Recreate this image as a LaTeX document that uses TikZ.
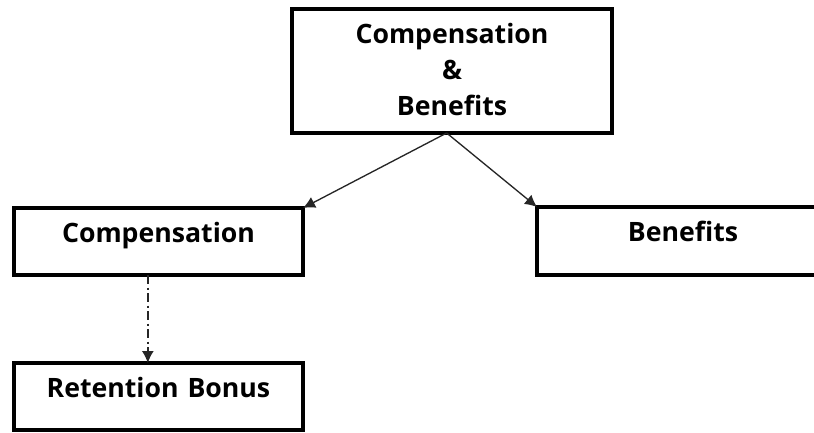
\documentclass[tikz,border=0pt]{standalone}
\usepackage{fontspec}
\setmainfont{Open Sans}
\usetikzlibrary{arrows.meta}

\tikzset{
  box/.style={draw, line width=2.4pt, inner xsep=0pt, inner ysep=0pt, outer sep=0pt,
    anchor=north west, align=center, font=\bfseries\fontsize{20}{27}\selectfont,
    text height=25.5pt, text depth=24.75pt},
  link/.style={draw, -{Latex[length=9pt, width=9pt]}, line width=1pt, black!85},
}

\begin{document}
\begin{tikzpicture}[x=0.75pt, y=-0.75pt]

\useasboundingbox (0,0) rectangle (814,432);
\clip (0,0) rectangle (814,432);

\node [box, text width=240pt, text depth=67.5pt] (cb) at (292,9) {
	Compensation \\
	\& \\
	Benefits};

\node [box, text width=216.75pt] (comp) at (14,208) {Compensation};

\node [box, text width=219pt, text depth=25.5pt] (ben) at (537,207) {Benefits};

\node [box, text width=216.75pt] (bonus) at (14,363) {Retention Bonus};

\path [link] ([xshift=-4pt]cb.south) -- (comp.north east);
\path [link] ([xshift=-4pt]cb.south) -- (ben.north west);
\path [link, dash pattern=on 7pt off 2.5pt on 1.5pt off 2.5pt] ([xshift=-8pt]comp.south) -- ([xshift=-8pt]bonus.north);

\end{tikzpicture}
\end{document}
